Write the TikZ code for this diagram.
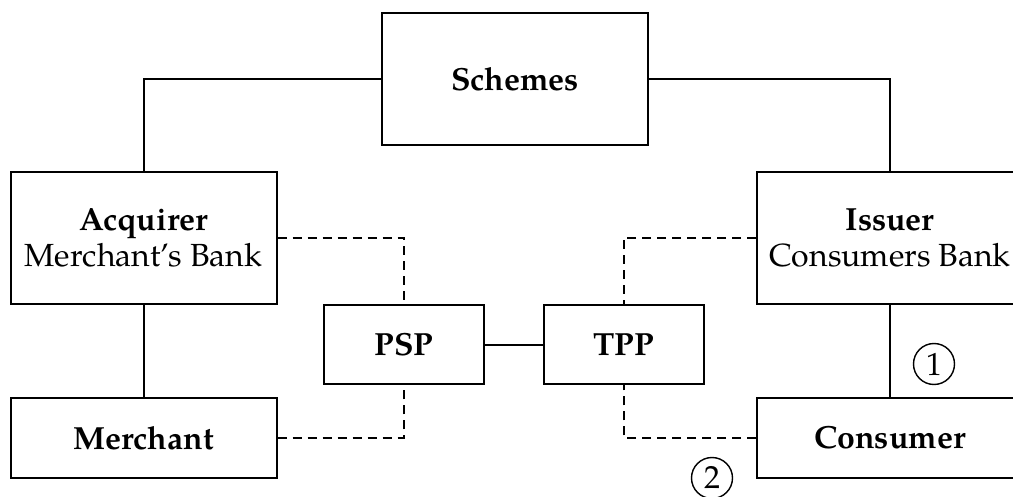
\documentclass[tikz,border=0pt]{standalone}
\usepackage{fontspec}
\setmainfont{TeX Gyre Pagella}
\begin{document}
\begin{tikzpicture}[x=0.5pt,y=-0.5pt,
  box/.style={draw, line width=1pt, inner sep=0pt, align=center, font=\fontsize{16}{18}\selectfont},
  bigbox/.style={box, minimum width=133pt, minimum height=66pt},
  lowbox/.style={box, minimum width=133pt, minimum height=40pt},
  smallbox/.style={box, minimum width=80pt, minimum height=39.5pt},
  solidlink/.style={line width=1pt},
  dashlink/.style={line width=1pt, dash pattern=on 4.5pt off 3pt},
  marker/.style={circle, draw, line width=0.7pt, minimum size=20.5pt, inner sep=0pt, font=\fontsize{16}{18}\selectfont}]
\useasboundingbox (0,0) rectangle (1013,497);
\clip (0,0) rectangle (1013,497);
\node[bigbox] (schemes) at (515,79) {\textbf{Schemes}};
\node[bigbox] (acq) at (143.5,238) {\textbf{Acquirer}\\Merchant{\char"0027}s Bank};
\node[bigbox] (iss) at (890,238) {\textbf{Issuer}\\Consumers Bank};
\node[lowbox] (mer) at (143.5,438) {\textbf{Merchant}};
\node[lowbox] (con) at (890,438) {\textbf{Consumer}};
\node[smallbox] (psp) at (404,345) {\textbf{PSP}};
\node[smallbox] (tpp) at (623.5,345) {\textbf{TPP}};
\node[marker] (m1) at (934,364) {1};
\node[marker] (m2) at (712,478) {2};
\draw[solidlink] (schemes.west) -| (acq.north);
\draw[solidlink] (schemes.east) -| (iss.north);
\draw[solidlink] (acq.south) -- (mer.north);
\draw[solidlink] (iss.south) -- (con.north);
\draw[solidlink] (psp.east) -- (tpp.west);
\draw[dashlink] (acq.east) -| (psp.north);
\draw[dashlink] (mer.east) -| (psp.south);
\draw[dashlink] (iss.west) -| (tpp.north);
\draw[dashlink] (con.west) -| (tpp.south);
\end{tikzpicture}
\end{document}
